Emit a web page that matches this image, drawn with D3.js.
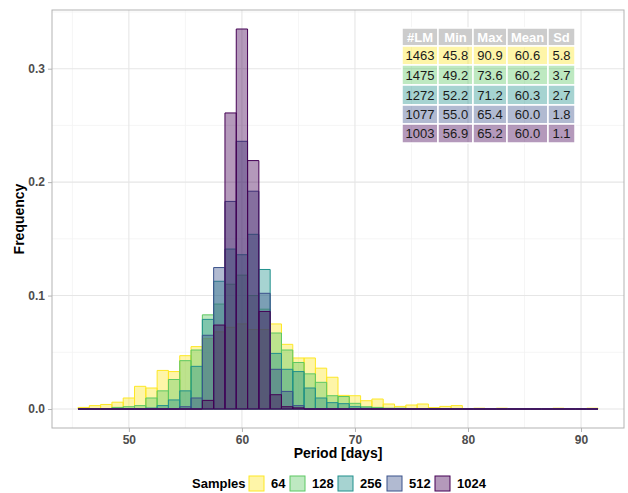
<!DOCTYPE html>
<html lang="en">
<head>
<meta charset="utf-8">
<script src="https://cdn.jsdelivr.net/npm/d3@7"></script>
<style type="text/css">
    body { margin: 0; background: white; }
    svg { font-family: "Liberation Sans", Arial, sans-serif; }
</style>
</head>
<body>
<script>
    // bin centres (binwidth 1 day)
    let bins = [46, 47, 48, 49, 50, 51, 52, 53, 54, 55, 56, 57, 58, 59, 60, 61, 62, 63, 64, 65, 66, 67, 68,
                69, 70, 71, 72, 73, 74, 75, 76, 77, 78, 79, 80, 81, 82, 83, 84, 85, 86, 87, 88, 89, 90, 91];

    let samples = ["64", "128", "256", "512", "1024"];
    let colors = ["#FDE725", "#5DC863", "#21908C", "#3B528B", "#440154"];

    let freq64 = [0.0014, 0.003, 0.004, 0.006, 0.0097, 0.020, 0.0185, 0.034, 0.033, 0.047, 0.055, 0.062, 0.068,
                  0.072, 0.075, 0.070, 0.070, 0.075, 0.057, 0.045, 0.045, 0.036, 0.028, 0.012, 0.0117, 0.0073,
                  0.0088, 0.0044, 0.0023, 0.0035, 0.0044, 0.0012, 0.0023, 0.003, 0, 0.0007, 0, 0.0007, 0, 0,
                  0, 0, 0.0007, 0, 0, 0.0007];
    let freq128 = [0, 0, 0, 0.0014, 0.002, 0.003, 0.0097, 0.016, 0.026, 0.0426, 0.052, 0.083, 0.0925, 0.110,
                   0.118, 0.100, 0.088, 0.067, 0.052, 0.041, 0.031, 0.0235, 0.0117, 0.011, 0.005, 0.002, 0.0014,
                   0.0007, 0.0007, 0, 0, 0, 0, 0, 0, 0, 0, 0, 0, 0, 0, 0, 0, 0, 0, 0];
    let freq256 = [0, 0, 0, 0, 0, 0, 0.0008, 0.003, 0.008, 0.016, 0.0376, 0.079, 0.1126, 0.141, 0.136, 0.154,
                   0.123, 0.049, 0.035, 0.033, 0.0185, 0.0097, 0.0056, 0.0047, 0.002, 0.0008, 0, 0, 0, 0, 0,
                   0, 0, 0, 0, 0, 0, 0, 0, 0, 0, 0, 0, 0, 0, 0];
    let freq512 = [0, 0, 0, 0, 0, 0, 0, 0, 0, 0.002, 0.0097, 0.065, 0.1247, 0.183, 0.236, 0.192, 0.102, 0.035,
                   0.0155, 0.003, 0, 0, 0, 0, 0, 0, 0, 0, 0, 0, 0, 0, 0, 0, 0, 0, 0, 0, 0, 0, 0, 0, 0, 0, 0, 0];
    let freq1024 = [0, 0, 0, 0, 0, 0, 0, 0, 0, 0, 0, 0.0076, 0.074, 0.261, 0.335, 0.219, 0.086, 0.0126, 0.002,
                    0.001, 0, 0, 0, 0, 0, 0, 0, 0, 0, 0, 0, 0, 0, 0, 0, 0, 0, 0, 0, 0, 0, 0, 0, 0, 0, 0];
    let allFreq = [freq64, freq128, freq256, freq512, freq1024];

    let xTicks = [50, 60, 70, 80, 90];
    let xMinor = [45, 55, 65, 75, 85];
    let yTicks = [0, 0.1, 0.2, 0.3];
    let yMinor = [0.05, 0.15, 0.25, 0.35];

    // summary table
    let tableHeader = ["#LM", "Min", "Max", "Mean", "Sd"];
    let tableRows = [
        ["1463", "45.8", "90.9", "60.6", "5.8"],
        ["1475", "49.2", "73.6", "60.2", "3.7"],
        ["1272", "52.2", "71.2", "60.3", "2.7"],
        ["1077", "55.0", "65.4", "60.0", "1.8"],
        ["1003", "56.9", "65.2", "60.0", "1.1"]
    ];

    let w = 628;
    let h = 493;
    let pLeft = 52, pRight = 624, pTop = 10, pBottom = 428;

    let svg = d3.select("body")
                .append("svg")
                .attr("width", w)
                .attr("height", h);

    let xScale = d3.scaleLinear()
                   .domain([43.2, 93.8])
                   .range([pLeft, pRight]);
    let yMax = 0.335 * 1.05;
    let yScale = d3.scaleLinear()
                   .domain([-0.335 * 0.05, yMax])
                   .range([pBottom, pTop]);

    // grid
    let grid = svg.append("g");
    grid.selectAll(".xminor").data(xMinor).enter().append("line")
        .attr("x1", d => xScale(d)).attr("x2", d => xScale(d))
        .attr("y1", pTop).attr("y2", pBottom)
        .attr("stroke", "#f2f2f2").attr("stroke-width", 0.8);
    grid.selectAll(".yminor").data(yMinor).enter().append("line")
        .attr("x1", pLeft).attr("x2", pRight)
        .attr("y1", d => yScale(d)).attr("y2", d => yScale(d))
        .attr("stroke", "#f2f2f2").attr("stroke-width", 0.8);
    grid.selectAll(".xmajor").data(xTicks).enter().append("line")
        .attr("x1", d => xScale(d)).attr("x2", d => xScale(d))
        .attr("y1", pTop).attr("y2", pBottom)
        .attr("stroke", "#e6e6e6").attr("stroke-width", 1.1);
    grid.selectAll(".ymajor").data(yTicks).enter().append("line")
        .attr("x1", pLeft).attr("x2", pRight)
        .attr("y1", d => yScale(d)).attr("y2", d => yScale(d))
        .attr("stroke", "#e6e6e6").attr("stroke-width", 1.1);

    // bars, one layer per sample size, 1024 on top
    allFreq.forEach((series, i) => {
        svg.append("g")
            .selectAll("path")
            .data(bins.map((b, j) => ({x: b, v: series[j]})))
            .enter()
            .append("path")
            .attr("d", d => {
                let x0 = xScale(d.x - 0.5), x1 = xScale(d.x + 0.5);
                let y0 = yScale(0), y1 = yScale(d.v);
                return "M" + x0 + "," + y0 + "V" + y1 + "H" + x1 + "V" + y0 + "Z";
            })
            .attr("fill", colors[i])
            .attr("fill-opacity", 0.4)
            .attr("stroke", colors[i])
            .attr("stroke-width", 1);
    });

    // panel border
    svg.append("rect")
        .attr("x", pLeft).attr("y", pTop)
        .attr("width", pRight - pLeft).attr("height", pBottom - pTop)
        .attr("fill", "none").attr("stroke", "#b3b3b3").attr("stroke-width", 1);

    // axes
    let xAxis = d3.axisBottom(xScale).tickValues(xTicks).tickSize(4).tickPadding(3);
    let yAxis = d3.axisLeft(yScale).tickValues(yTicks).tickSize(4).tickPadding(3).tickFormat(d3.format(".1f"));

    let gx = svg.append("g")
        .attr("transform", "translate(0," + pBottom + ")")
        .call(xAxis);
    let gy = svg.append("g")
        .attr("transform", "translate(" + pLeft + ",0)")
        .call(yAxis);
    [gx, gy].forEach(g => {
        g.select(".domain").remove();
        g.selectAll(".tick line").attr("stroke", "#b3b3b3");
        g.selectAll(".tick text")
            .attr("fill", "#4d4d4d")
            .attr("font-size", "12px")
            .attr("font-weight", "bold")
            .attr("font-family", "Liberation Sans, Arial, sans-serif");
    });

    svg.append("text")
        .attr("x", (pLeft + pRight) / 2)
        .attr("y", 458)
        .attr("text-anchor", "middle")
        .attr("font-size", "14px")
        .attr("font-weight", "bold")
        .text("Period [days]");

    svg.append("text")
        .attr("transform", "translate(24," + ((pTop + pBottom) / 2) + ") rotate(-90)")
        .attr("text-anchor", "middle")
        .attr("font-size", "14px")
        .attr("font-weight", "bold")
        .text("Frequency");

    // table
    let colEdges = [402, 438, 473, 507, 548, 575];
    let rowEdges = [28, 46, 65, 85, 105, 124, 143];
    let table = svg.append("g");
    table.selectAll(".hcell").data(tableHeader).enter().append("rect")
        .attr("x", (d, j) => colEdges[j]).attr("y", rowEdges[0])
        .attr("width", (d, j) => colEdges[j + 1] - colEdges[j])
        .attr("height", rowEdges[1] - rowEdges[0])
        .attr("fill", "#cccccc").attr("stroke", "white").attr("stroke-width", 1.5);
    table.selectAll(".htext").data(tableHeader).enter().append("text")
        .attr("x", (d, j) => (colEdges[j] + colEdges[j + 1]) / 2)
        .attr("y", (rowEdges[0] + rowEdges[1]) / 2 + 4.5)
        .attr("text-anchor", "middle")
        .attr("font-size", "13px").attr("font-weight", "bold").attr("fill", "white")
        .text(d => d);
    tableRows.forEach((row, i) => {
        table.selectAll(".r" + i).data(row).enter().append("rect")
            .attr("x", (d, j) => colEdges[j]).attr("y", rowEdges[i + 1])
            .attr("width", (d, j) => colEdges[j + 1] - colEdges[j])
            .attr("height", rowEdges[i + 2] - rowEdges[i + 1])
            .attr("fill", colors[i]).attr("fill-opacity", 0.4)
            .attr("stroke", "white").attr("stroke-width", 1.5);
        table.selectAll(".t" + i).data(row).enter().append("text")
            .attr("x", (d, j) => (colEdges[j] + colEdges[j + 1]) / 2)
            .attr("y", (rowEdges[i + 1] + rowEdges[i + 2]) / 2 + 4.5)
            .attr("text-anchor", "middle")
            .attr("font-size", "13px").attr("fill", "#1a1a1a")
            .text(d => d);
    });

    // legend
    let legend = svg.append("g");
    legend.append("text")
        .attr("x", 192).attr("y", 488)
        .attr("font-size", "13px").attr("font-weight", "bold")
        .text("Samples");
    let keyX = [249, 290, 338, 387, 435];
    samples.forEach((s, i) => {
        legend.append("rect")
            .attr("x", keyX[i]).attr("y", 476)
            .attr("width", 15).attr("height", 15)
            .attr("fill", colors[i]).attr("fill-opacity", 0.4)
            .attr("stroke", colors[i]).attr("stroke-width", 1);
        legend.append("text")
            .attr("x", keyX[i] + 22).attr("y", 488)
            .attr("font-size", "13px").attr("font-weight", "bold")
            .text(s);
    });
</script>
</body>
</html>
